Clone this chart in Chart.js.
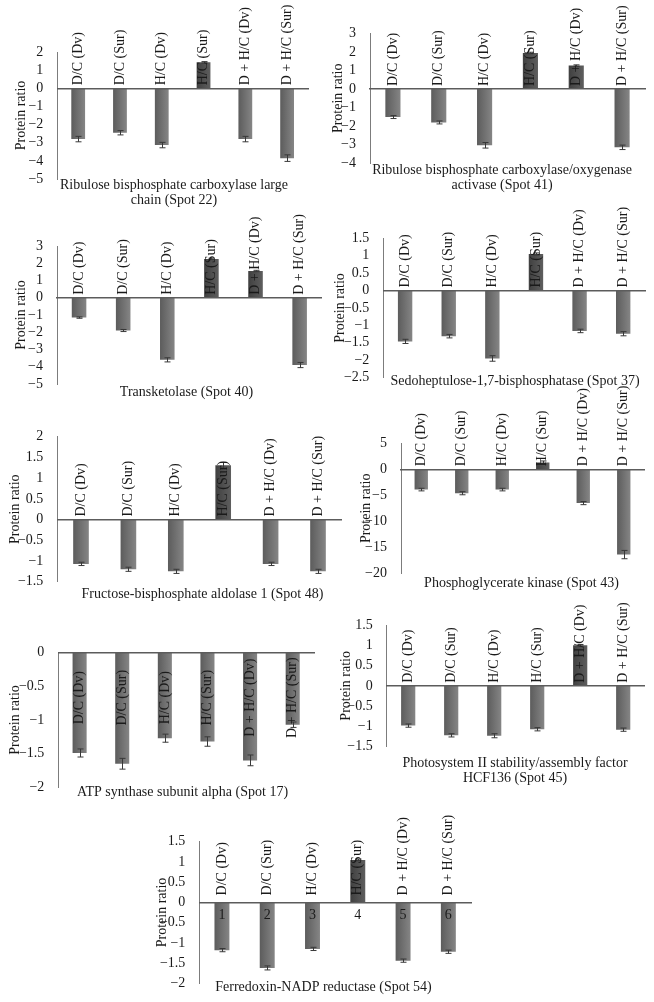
<!DOCTYPE html>
<html><head><meta charset="utf-8">
<script src="https://cdn.jsdelivr.net/npm/chart.js@4.4.1/dist/chart.umd.min.js"></script>
<style>
html,body{margin:0;padding:0;background:#fff;overflow:hidden;width:654px;height:1002px;position:relative;}
.box{position:absolute;}
canvas{display:block;}
</style></head><body>
<script>
// ---------- data ----------
const categories = ['D/C (Dv)', 'D/C (Sur)', 'H/C (Dv)', 'H/C (Sur)', 'D + H/C (Dv)', 'D + H/C (Sur)'];
const axisNumbers = ['1', '2', '3', '4', '5', '6'];

const spot22 = [-2.8, -2.45, -3.13, 1.43, -2.8, -3.85];
const spot22Err = [0.15, 0.12, 0.15, 0.04, 0.15, 0.18];
const spot22Ticks = [-5, 2, 1];

const spot41 = [-1.51, -1.8, -3.03, 1.94, 1.26, -3.14];
const spot41Err = [0.08, 0.08, 0.15, 0.04, 0.04, 0.12];
const spot41Ticks = [-4, 3, 1];

const spot40 = [-1.15, -1.9, -3.6, 2.25, 1.55, -3.9];
const spot40Err = [0.04, 0.06, 0.12, 0.04, 0.04, 0.15];
const spot40Ticks = [-5, 3, 1];

const spot37 = [-1.46, -1.31, -1.95, 1.05, -1.16, -1.24];
const spot37Err = [0.06, 0.05, 0.08, 0.03, 0.05, 0.06];
const spot37Ticks = [-2.5, 1.5, 0.5];

const spot48 = [-1.07, -1.2, -1.25, 1.31, -1.07, -1.25];
const spot48Err = [0.04, 0.05, 0.05, 0.07, 0.04, 0.05];
const spot48Ticks = [-1.5, 2, 0.5];

const spot43 = [-3.9, -4.6, -3.9, 1.3, -6.5, -16.4];
const spot43Err = [0.25, 0.3, 0.25, 0.3, 0.3, 0.8];
const spot43Ticks = [-20, 5, 5];

const spot17 = [-1.49, -1.65, -1.27, -1.32, -1.6, -1.07];
const spot17Err = [0.06, 0.08, 0.06, 0.07, 0.08, 0.04];
const spot17Ticks = [-2, 0, 0.5];

const spot45 = [-0.98, -1.22, -1.23, -1.07, 1.0, -1.08];
const spot45Err = [0.04, 0.04, 0.05, 0.04, 0.02, 0.04];
const spot45Ticks = [-1.5, 1.5, 0.5];

const spot54 = [-1.18, -1.62, -1.15, 1.05, -1.44, -1.22];
const spot54Err = [0.04, 0.05, 0.04, 0.02, 0.04, 0.04];
const spot54Ticks = [-2, 1.5, 0.5];

const title22 = ['Ribulose bisphosphate carboxylase large', 'chain (Spot 22)'];
const title41 = ['Ribulose bisphosphate carboxylase/oxygenase', 'activase (Spot 41)'];
const title40 = ['Transketolase (Spot 40)'];
const title37 = ['Sedoheptulose-1,7-bisphosphatase (Spot 37)'];
const title48 = ['Fructose-bisphosphate aldolase 1 (Spot 48)'];
const title43 = ['Phosphoglycerate kinase (Spot 43)'];
const title17 = ['ATP synthase subunit alpha (Spot 17)'];
const title45 = ['Photosystem II stability/assembly factor', 'HCF136 (Spot 45)'];
const title54 = ['Ferredoxin-NADP reductase (Spot 54)'];
const yTitle = 'Protein ratio';

// ---------- style ----------
const SERIF = '"Liberation Serif", "Times New Roman", serif';
const TEXT = '#1a1a1a';
const NEG = ['#5c5c5c', '#858585'];
const POS = ['#404040', '#5e5e5e'];
const LH = 15;
Chart.defaults.font.family = SERIF;
Chart.defaults.font.size = 14;
Chart.defaults.color = TEXT;

function fmt(v) { return v < 0 ? '\u2212' + Math.abs(v) : String(v); }

const barShade = {
  id: 'barShade',
  beforeDatasetsDraw(chart) {
    const ds = chart.data.datasets[0];
    const ctx = chart.ctx;
    chart.getDatasetMeta(0).data.forEach((bar, i) => {
      const pair = ds.data[i] >= 0 ? POS : NEG;
      const g = ctx.createLinearGradient(bar.x - bar.width / 2, 0, bar.x + bar.width / 2, 0);
      g.addColorStop(0, pair[0]);
      g.addColorStop(1, pair[1]);
      bar.options.backgroundColor = g;
    });
  }
};

const errorBars = {
  id: 'errorBars',
  afterDatasetsDraw(chart) {
    const ds = chart.data.datasets[0];
    const meta = chart.getDatasetMeta(0);
    const ys = chart.scales.y;
    const ctx = chart.ctx;
    ctx.save();
    ctx.strokeStyle = '#383838';
    ctx.lineWidth = 1;
    meta.data.forEach((bar, i) => {
      const v = ds.data[i], e = ds.errors[i];
      const y1 = ys.getPixelForValue(v - e), y2 = ys.getPixelForValue(v + e);
      const x = Math.round(bar.x) + 0.5, c = 3;
      ctx.beginPath();
      ctx.moveTo(x, y1); ctx.lineTo(x, y2);
      ctx.moveTo(x - c, y1); ctx.lineTo(x + c, y1);
      ctx.moveTo(x - c, y2); ctx.lineTo(x + c, y2);
      ctx.stroke();
    });
    ctx.restore();
  }
};

// side: 'above' = text starts just above the zero line; 'center' = text centred at an offset below it
function catLabels(side, gap) {
  return {
    id: 'catLabels',
    afterDatasetsDraw(chart) {
      const xs = chart.scales.x, ys = chart.scales.y, ctx = chart.ctx;
      const zero = ys.getPixelForValue(0);
      ctx.save();
      ctx.font = '14px ' + SERIF;
      ctx.fillStyle = TEXT;
      ctx.textBaseline = 'middle';
      chart.data.labels.forEach((lab, i) => {
        const x = xs.getPixelForValue(i);
        ctx.save();
        ctx.translate(x, side === 'above' ? zero - gap : zero + gap);
        ctx.rotate(-Math.PI / 2);
        ctx.textAlign = side === 'above' ? 'left' : 'center';
        ctx.fillText(lab, 0, 0);
        ctx.restore();
      });
      ctx.restore();
    }
  };
}

function panel(g, values, errors, ticks, title, side, gap, showNumbers) {
  const W = Math.round(2 * (g.titleC - g.Lc));
  const titlePadTop = g.titleY - g.plotB - LH / 2;
  const rawH = (g.plotB - g.Tc) + titlePadTop + title.length * LH + 2;
  const H = Math.ceil(rawH);
  const div = document.createElement('div');
  div.className = 'box';
  div.style.left = g.Lc + 'px';
  div.style.top = g.Tc + 'px';
  div.style.width = W + 'px';
  div.style.height = H + 'px';
  const cv = document.createElement('canvas');
  cv.width = W; cv.height = H;
  cv.style.width = W + 'px'; cv.style.height = H + 'px';
  div.appendChild(cv);
  document.body.appendChild(div);
  new Chart(cv, {
    type: 'bar',
    data: {
      labels: categories,
      datasets: [{
        data: values,
        errors: errors,
        backgroundColor: (c) => (c.raw >= 0 ? POS[0] : NEG[0]),
        borderWidth: 0,
        barPercentage: 0.33,
        categoryPercentage: 1
      }]
    },
    options: {
      responsive: false,
      animation: false,
      events: [],
      layout: { padding: { top: g.plotT - g.Tc, left: 0, right: 0, bottom: H - rawH } },
      plugins: {
        legend: { display: false },
        tooltip: { enabled: false },
        title: {
          display: true, position: 'bottom', fullSize: true, text: title, color: TEXT,
          font: { family: SERIF, size: 14, weight: 'normal', lineHeight: LH / 14 },
          padding: { top: titlePadTop, bottom: 2 }
        }
      },
      scales: {
        x: {
          type: 'category',
          position: { y: 0 },
          offset: true,
          grid: { display: false },
          border: { display: true, color: '#5c5c5c', width: 1.5, z: 1 },
          ticks: {
            display: !!showNumbers, autoSkip: false, maxRotation: 0, minRotation: 0, padding: -3, z: 2,
            color: TEXT, font: { family: SERIF, size: 14 },
            callback: (v, i) => axisNumbers[i]
          }
        },
        y: {
          type: 'linear',
          position: 'left',
          min: ticks[0], max: ticks[1],
          grid: { display: false },
          border: { display: true, color: '#7c7c7c', width: 1 },
          ticks: { stepSize: ticks[2], autoSkip: false, padding: 6, color: TEXT, font: { family: SERIF, size: 14 }, callback: fmt },
          title: {
            display: true, text: yTitle, color: TEXT,
            font: { family: SERIF, size: 14, lineHeight: 1 },
            padding: { top: g.yTitleX - g.Lc - 7, bottom: 0 }
          },
          afterFit: (s) => { s.width = g.plotL - g.Lc; }
        },
        yR: {
          type: 'linear',
          position: 'right',
          display: true,
          grid: { display: false },
          border: { display: false },
          ticks: { display: false },
          afterFit: (s) => { s.width = g.Lc + W - g.plotR; }
        }
      }
    },
    plugins: [barShade, errorBars, catLabels(side, gap)]
  });
}

panel({Lc: 0, Tc: 0, plotL: 57.3, plotR: 308, plotT: 52, plotB: 179, yTitleX: 21.7, titleC: 174, titleY: 185},
      spot22, spot22Err, spot22Ticks, title22, 'above', 3);
panel({Lc: 328, Tc: 0, plotL: 370, plotR: 645, plotT: 33.3, plotB: 163.3, yTitleX: 338, titleC: 502, titleY: 170},
      spot41, spot41Err, spot41Ticks, title41, 'above', 3);
panel({Lc: 0, Tc: 212, plotL: 57, plotR: 321.7, plotT: 246, plotB: 384, yTitleX: 21.7, titleC: 186.7, titleY: 392.7},
      spot40, spot40Err, spot40Ticks, title40, 'above', 3);
panel({Lc: 330, Tc: 205, plotL: 383.3, plotR: 645, plotT: 238.3, plotB: 378, yTitleX: 340, titleC: 515, titleY: 381.7},
      spot37, spot37Err, spot37Ticks, title37, 'above', 3);
panel({Lc: 5, Tc: 420, plotL: 57.3, plotR: 341.7, plotT: 436.7, plotB: 581.7, yTitleX: 15, titleC: 202.7, titleY: 594},
      spot48, spot48Err, spot48Ticks, title48, 'above', 3);
panel({Lc: 356, Tc: 386, plotL: 401, plotR: 644, plotT: 443.3, plotB: 573.3, yTitleX: 366.7, titleC: 521.3, titleY: 583.3},
      spot43, spot43Err, spot43Ticks, title43, 'above', 3);
panel({Lc: 5, Tc: 630, plotL: 58.3, plotR: 314, plotT: 652.7, plotB: 787.3, yTitleX: 15, titleC: 182.7, titleY: 792.7},
      spot17, spot17Err, spot17Ticks, title17, 'center', 45);
panel({Lc: 336, Tc: 600, plotL: 386.7, plotR: 644.7, plotT: 625, plotB: 746.7, yTitleX: 346.7, titleC: 515, titleY: 763.3},
      spot45, spot45Err, spot45Ticks, title45, 'above', 3);
panel({Lc: 152, Tc: 800, plotL: 199.3, plotR: 471, plotT: 841.7, plotB: 983.3, yTitleX: 162, titleC: 323.3, titleY: 987.7},
      spot54, spot54Err, spot54Ticks, title54, 'above', 7, true);
</script>
</body></html>
